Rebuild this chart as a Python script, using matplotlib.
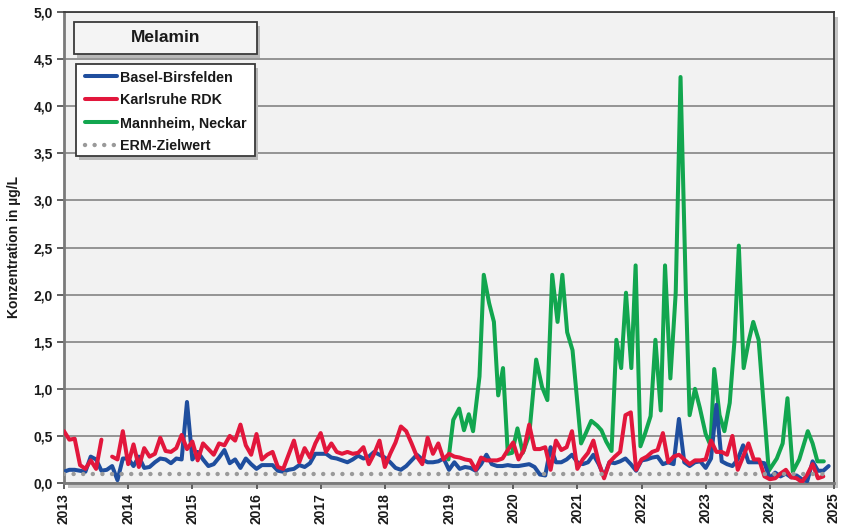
import numpy as np
import matplotlib
matplotlib.use("Agg")
import matplotlib.pyplot as plt
from matplotlib.patches import Rectangle
from matplotlib.ticker import FuncFormatter, MultipleLocator

plt.rcParams['font.family'] = ['Liberation Sans', 'DejaVu Sans']
plt.rcParams['font.weight'] = 'bold'

title = "Melamin"
ylabel = "Konzentration in µg/L"
series_names = ["Basel-Birsfelden", "Karlsruhe RDK", "Mannheim, Neckar", "ERM-Zielwert"]
year_ticks = list(range(2013, 2026))
erm_target = 0.1

# monthly values Jan 2013 .. Dec 2024
basel = [
    0.12, 0.14, 0.14, 0.13, 0.12, 0.28, 0.25, 0.13, 0.14, 0.18, 0.03, 0.26,
    0.26, 0.18, 0.28, 0.16, 0.17, 0.22, 0.26, 0.25, 0.21, 0.26, 0.25, 0.86,
    0.25, 0.33, 0.25, 0.18, 0.20, 0.27, 0.35, 0.21, 0.25, 0.16, 0.26, 0.20,
    0.15, 0.19, 0.19, 0.19, 0.13, 0.12, 0.14, 0.15, 0.19, 0.17, 0.21, 0.31,
    0.31, 0.31, 0.27, 0.26, 0.24, 0.22, 0.25, 0.29, 0.26, 0.28, 0.33, 0.30,
    0.27, 0.22, 0.16, 0.14, 0.18, 0.24, 0.30, 0.25, 0.22, 0.22, 0.23, 0.26,
    0.14, 0.22, 0.15, 0.17, 0.16, 0.13, 0.20, 0.30, 0.20, 0.18, 0.18, 0.19,
    0.18, 0.18, 0.19, 0.20, 0.17, 0.09, 0.08, 0.38, 0.22, 0.22, 0.25, 0.30,
    0.22, 0.20, 0.22, 0.30, 0.20, 0.07, 0.22, 0.21, 0.23, 0.26, 0.20, 0.13,
    0.24, 0.25, 0.27, 0.28, 0.20, 0.22, 0.20, 0.68, 0.22, 0.18, 0.22, 0.23,
    0.16, 0.26, 0.83, 0.23, 0.20, 0.18, 0.25, 0.40, 0.22, 0.22, 0.22, 0.21,
    0.05, 0.11, 0.07, 0.10, 0.06, 0.08, 0.04, 0.02, 0.23, 0.13, 0.13, 0.18,
]

karlsruhe = [
    0.55, 0.46, 0.47, 0.19, 0.15, 0.24, 0.15, 0.46, np.nan, 0.28, 0.25, 0.55,
    0.20, 0.41, 0.17, 0.37, 0.28, 0.31, 0.48, 0.34, 0.33, 0.37, 0.51, 0.36,
    0.44, 0.24, 0.42, 0.36, 0.30, 0.42, 0.40, 0.50, 0.45, 0.62, 0.40, 0.30,
    0.52, 0.25, 0.30, 0.33, 0.17, 0.15, 0.30, 0.45, 0.22, 0.37, 0.27, 0.42,
    0.53, 0.33, 0.42, 0.33, 0.31, 0.33, 0.31, 0.32, 0.38, 0.20, 0.31, 0.45,
    0.17, 0.31, 0.43, 0.60, 0.55, 0.42, 0.28, 0.20, 0.48, 0.31, 0.42, 0.25,
    0.31, 0.28, 0.27, 0.25, 0.24, 0.14, 0.27, 0.24, 0.24, 0.24, 0.26, 0.35,
    0.43, 0.25, 0.35, 0.62, 0.36, 0.36, 0.38, 0.14, 0.45, 0.35, 0.38, 0.55,
    0.15, 0.25, 0.32, 0.45, 0.22, 0.05, 0.22, 0.28, 0.33, 0.72, 0.75, 0.14,
    0.25, 0.28, 0.33, 0.35, 0.53, 0.22, 0.28, 0.30, 0.25, 0.20, 0.24, 0.24,
    0.25, 0.45, 0.33, 0.33, 0.30, 0.50, 0.14, 0.28, 0.42, 0.25, 0.25, 0.07,
    0.04, 0.05, 0.10, 0.14, 0.06, 0.05, 0.01, 0.09, 0.20, 0.05, 0.07, np.nan,
]

# Mannheim sampling times (months after Jan 2013) and values
mannheim_month = [
    71.9, 72.8, 73.9, 74.8, 75.7, 76.5, 77.7, 78.5, 79.5, 80.4, 81.2, 82.1,
    83.0, 83.8, 84.8, 85.8, 87.0, 88.3, 89.4, 90.4, 91.3, 92.3, 93.2, 94.1,
    95.1, 96.7, 97.6, 98.6, 99.7, 100.5, 101.4, 102.4, 103.3, 104.2, 105.1,
    106.1, 106.9, 107.8, 108.7, 109.7, 110.6, 111.6, 112.4, 113.4, 114.4,
    115.3, 116.3, 117.0, 118.0, 118.9, 120.0, 120.9, 121.6, 122.6, 123.5,
    124.5, 125.4, 126.2, 127.1, 128.1, 128.9, 129.9, 131.8, 133.3, 134.4,
    135.3, 136.3, 137.5, 139.1, 140.0, 140.9, 142.1,
]
mannheim = [
    0.25, 0.67, 0.79, 0.56, 0.73, 0.55, 1.13, 2.21, 1.91, 1.71, 0.93, 1.22,
    0.31, 0.32, 0.58, 0.32, 0.51, 1.31, 1.02, 0.88, 2.21, 1.71, 2.21, 1.60,
    1.41, 0.42, 0.53, 0.66, 0.61, 0.56, 0.44, 0.34, 1.52, 1.22, 2.02,
    1.22, 2.31, 0.39, 0.53, 0.71, 1.52, 0.77, 2.31, 1.11, 2.02,
    4.31, 2.02, 0.72, 1.00, 0.80, 0.52, 0.40, 1.21, 0.72, 0.55,
    0.85, 1.52, 2.52, 1.22, 1.52, 1.71, 1.52, 0.13, 0.26, 0.42,
    0.90, 0.12, 0.25, 0.55, 0.42, 0.23, 0.23,
]

c_blue = "#1f4e9e"
c_red = "#e2173c"
c_green = "#12a64f"
c_erm = "#9a9a9a"

W, H = 843, 527
fig = plt.figure(figsize=(W / 100, H / 100), dpi=100)
fig.patch.set_facecolor("white")

L, R, T, B = 64, 834, 12, 483
ax = fig.add_axes([L / W, 1 - B / H, (R - L) / W, (B - T) / H])
ax.set_facecolor("#f2f2f2")

# shadow of plot area
fig.add_artist(Rectangle(((L + 4) / W, 1 - (B + 5) / H), (R - L) / W, (B - T) / H,
                         transform=fig.transFigure, facecolor="#c4c4c4",
                         edgecolor="none", zorder=-1))

t_months = 2013 + np.arange(len(basel)) / 12.0
t_mann = 2013 + np.array(mannheim_month) / 12.0

lw = 2.9
l1, = ax.plot(t_months, basel, color=c_blue, lw=lw, solid_joinstyle="round",
              solid_capstyle="round", zorder=3, label=series_names[0])
l2, = ax.plot(t_months, karlsruhe, color=c_red, lw=lw, solid_joinstyle="round",
              solid_capstyle="round", zorder=4, label=series_names[1])
l3, = ax.plot(t_mann, mannheim, color=c_green, lw=lw, solid_joinstyle="round",
              solid_capstyle="round", zorder=2, label=series_names[2])
l4, = ax.plot([2013, 2024.95], [erm_target, erm_target], color=c_erm, lw=3.2,
              dashes=(0.01, 2.15), dash_capstyle="round", zorder=5,
              label=series_names[3])

ax.set_xlim(2013, 2025)
ax.set_ylim(0, 5.0)
ax.yaxis.set_major_locator(MultipleLocator(0.5))
ax.yaxis.set_major_formatter(FuncFormatter(lambda v, p: f"{v:.1f}".replace(".", ",")))
ax.set_xticks(year_ticks)
ax.set_xticklabels([str(y) for y in year_ticks], rotation=90)

ax.grid(axis="y", color="#7a7a7a", lw=1.1)
ax.grid(axis="x", visible=False)
ax.set_axisbelow(True)

for s in ["left", "bottom"]:
    ax.spines[s].set_color("#7a7a7a")
    ax.spines[s].set_linewidth(2.0)
for s in ["top", "right"]:
    ax.spines[s].set_color("#3a3a3a")
    ax.spines[s].set_linewidth(1.3)

ax.tick_params(axis="y", direction="out", length=5, width=1.3, color="#555555",
               labelsize=10, labelcolor="#1a1a1a", pad=3)
ax.tick_params(axis="x", direction="out", length=4, width=1.3, color="#555555",
               labelsize=10, labelcolor="#1a1a1a", pad=3)
for lab in ax.get_xticklabels() + ax.get_yticklabels():
    lab.set_fontweight("bold")

ax.set_ylabel(ylabel, fontsize=10, fontweight="bold", color="#1a1a1a", labelpad=9)

# title box
tx0, ty0, tx1, ty1 = 74, 22, 257, 54
fig.add_artist(Rectangle(((tx0 + 3) / W, 1 - (ty1 + 4) / H), (tx1 - tx0) / W, (ty1 - ty0) / H,
                         transform=fig.transFigure, facecolor="#b8b8b8",
                         edgecolor="none", zorder=6))
fig.add_artist(Rectangle((tx0 / W, 1 - ty1 / H), (tx1 - tx0) / W, (ty1 - ty0) / H,
                         transform=fig.transFigure, facecolor="#f4f4f4",
                         edgecolor="#3a3a3a", lw=1.3, zorder=7))
fig.text((tx0 + tx1) / 2 / W, 1 - (ty0 + ty1) / 2 / H, title, ha="center", va="center",
         fontsize=12.5, fontweight="bold", color="#1a1a1a", zorder=8)

# legend frame (drawn separately) and legend content
lx0, ly0, lx1, ly1 = 76, 64, 255, 156
fig.add_artist(Rectangle(((lx0 + 3) / W, 1 - (ly1 + 4) / H), (lx1 - lx0) / W, (ly1 - ly0) / H,
                         transform=fig.transFigure, facecolor="#b8b8b8",
                         edgecolor="none", zorder=9))
fig.add_artist(Rectangle((lx0 / W, 1 - ly1 / H), (lx1 - lx0) / W, (ly1 - ly0) / H,
                         transform=fig.transFigure, facecolor="white",
                         edgecolor="#3a3a3a", lw=1.3, zorder=9.5))

leg = fig.legend(handles=[l1, l2, l3, l4], loc="upper left",
                 bbox_to_anchor=(85 / W, 1 - 70.5 / H), bbox_transform=fig.transFigure,
                 borderaxespad=0, frameon=False,
                 prop={"weight": "bold", "size": 10.3}, handlelength=2.25,
                 handletextpad=0.2, labelspacing=0.62, borderpad=0)
leg.set_zorder(10)
for t in leg.get_texts():
    t.set_color("#1a1a1a")

fig.savefig("out.png", dpi=100, facecolor="white")
